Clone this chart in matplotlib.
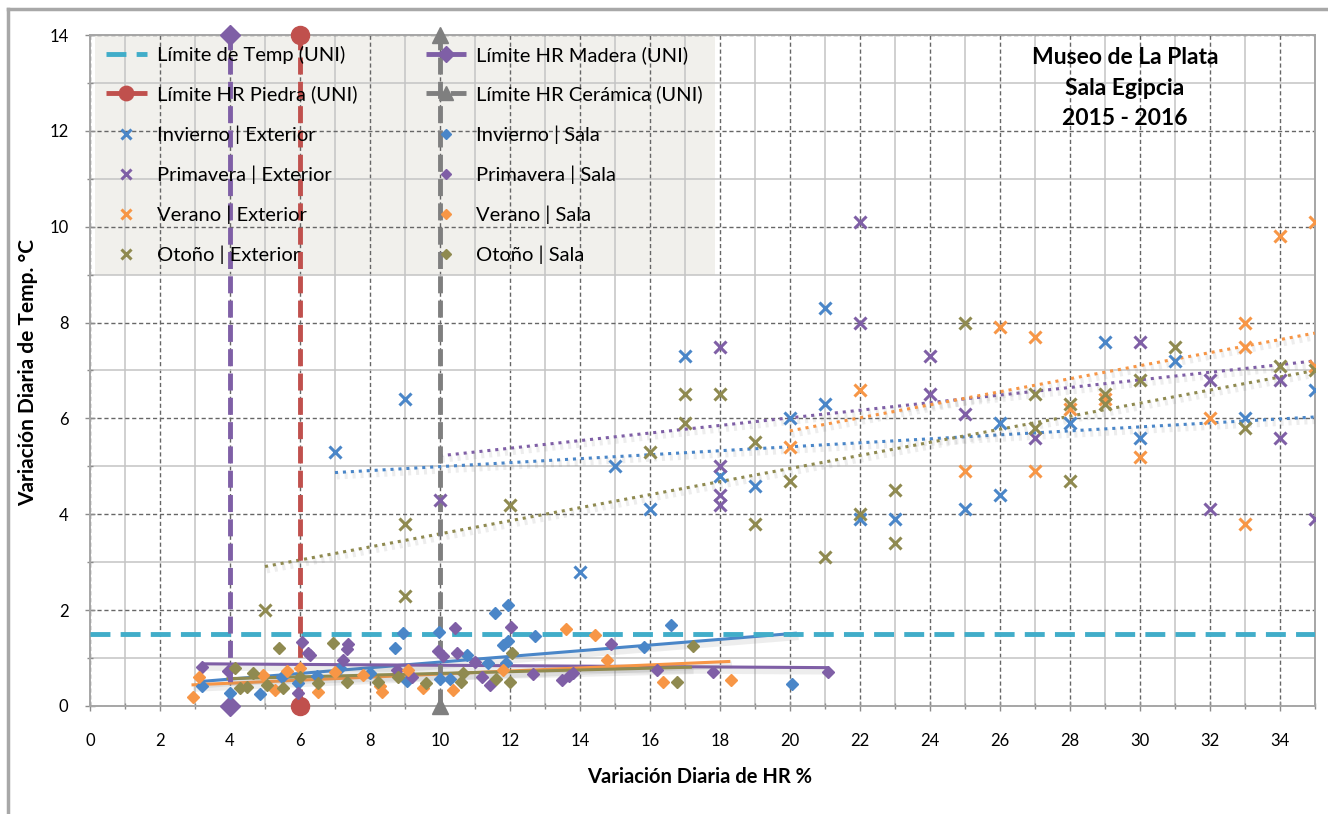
import matplotlib
matplotlib.use("Agg")
import matplotlib.pyplot as plt
import matplotlib.patheffects as pe
from matplotlib.patches import Rectangle
from matplotlib.lines import Line2D
from matplotlib.ticker import MultipleLocator

plt.rcParams['font.family'] = ['Lato', 'DejaVu Sans']

# ---------------- data ----------------
# Exterior daily variations (HR %, Temp °C)
inv_ext_x = [7, 9, 14, 15, 16, 17, 18, 19, 20, 21, 21, 22, 23, 25, 26, 26, 28, 29, 30, 31, 33, 35]
inv_ext_y = [5.3, 6.4, 2.8, 5.0, 4.1, 7.3, 4.8, 4.6, 6.0, 8.3, 6.3, 3.9, 3.9, 4.1, 5.9, 4.4, 5.9, 7.6, 5.6, 7.2, 6.0, 6.6]

prim_ext_x = [10, 18, 18, 18, 18, 22, 22, 24, 24, 25, 27, 30, 32, 32, 34, 34, 35]
prim_ext_y = [4.3, 7.5, 5.0, 4.4, 4.2, 10.1, 8.0, 7.3, 6.5, 6.1, 5.6, 7.6, 6.8, 4.1, 6.8, 5.6, 3.9]

ver_ext_x = [20, 22, 25, 26, 27, 27, 28, 29, 30, 32, 33, 33, 33, 34, 35, 35]
ver_ext_y = [5.4, 6.6, 4.9, 7.9, 7.7, 4.9, 6.2, 6.4, 5.2, 6.0, 8.0, 7.5, 3.8, 9.8, 10.1, 7.1]

oto_ext_x = [5, 9, 9, 12, 16, 17, 17, 18, 19, 19, 20, 21, 22, 23, 23, 25, 27, 27, 28, 28, 29, 29, 30, 31, 33, 34, 35]
oto_ext_y = [2.0, 3.8, 2.3, 4.2, 5.3, 6.5, 5.9, 6.5, 5.5, 3.8, 4.7, 3.1, 4.0, 4.5, 3.4, 8.0, 6.5, 5.8, 6.3, 4.7, 6.5, 6.3, 6.8, 7.5, 5.8, 7.1, 7.0]

# Sala (room) daily variations
inv_sala_x = [3.19, 4.0, 4.86, 5.5, 5.95, 6.5, 7.14, 8.0, 8.71, 8.95, 9.05, 9.96, 10.0, 10.3,
              10.76, 11.38, 11.57, 11.81, 11.89, 11.95, 11.95, 12.71, 15.83, 16.6, 20.05]
inv_sala_y = [0.42, 0.28, 0.26, 0.6, 0.47, 0.62, 0.79, 0.68, 1.2, 1.52, 0.53, 1.55, 0.56, 0.56,
              1.06, 0.89, 1.93, 1.27, 0.9, 1.36, 2.1, 1.45, 1.24, 1.69, 0.46]

prim_sala_x = [3.19, 3.95, 5.95, 6.05, 6.24, 6.3, 7.24, 7.33, 7.37, 8.76, 9.2, 9.95, 10.1, 10.43,
               10.48, 11.0, 11.2, 11.43, 12.02, 12.67, 13.5, 13.7, 13.8, 14.88, 16.19, 17.79, 21.1]
prim_sala_y = [0.81, 0.73, 0.27, 1.34, 1.1, 1.06, 0.96, 1.19, 1.29, 0.75, 0.6, 1.15, 1.05, 1.62,
               1.1, 0.92, 0.6, 0.44, 1.64, 0.66, 0.55, 0.62, 0.68, 1.29, 0.75, 0.7, 0.7]

ver_sala_x = [2.95, 3.1, 4.95, 5.29, 5.62, 6.0, 6.52, 7.0, 7.8, 8.29, 8.33, 9.1, 9.52, 10.36,
              11.8, 13.6, 14.43, 14.78, 16.38, 18.33]
ver_sala_y = [0.18, 0.61, 0.64, 0.33, 0.72, 0.8, 0.3, 0.7, 0.65, 0.42, 0.3, 0.75, 0.37, 0.33,
              0.75, 1.6, 1.48, 0.96, 0.51, 0.54]

oto_sala_x = [4.14, 4.29, 4.48, 4.65, 5.05, 5.41, 5.52, 6.0, 6.52, 6.95, 7.33, 8.24, 8.8, 9.6,
              10.6, 10.67, 11.6, 12.0, 12.05, 16.78, 17.22]
oto_sala_y = [0.79, 0.37, 0.4, 0.68, 0.44, 1.2, 0.37, 0.6, 0.47, 1.31, 0.51, 0.51, 0.6, 0.47,
              0.5, 0.68, 0.57, 0.51, 1.1, 0.51, 1.26]

# Linear trend lines (start / end)
inv_ext_trend_x, inv_ext_trend_y = [7, 35], [4.87, 6.03]
prim_ext_trend_x, prim_ext_trend_y = [10, 35], [5.22, 7.2]
ver_ext_trend_x, ver_ext_trend_y = [20, 35], [5.74, 7.78]
oto_ext_trend_x, oto_ext_trend_y = [5, 35], [2.91, 7.0]

inv_sala_trend_x, inv_sala_trend_y = [3.14, 20.2], [0.51, 1.52]
prim_sala_trend_x, prim_sala_trend_y = [3.19, 21.1], [0.88, 0.80]
ver_sala_trend_x, ver_sala_trend_y = [2.9, 18.3], [0.44, 0.93]
oto_sala_trend_x, oto_sala_trend_y = [3.9, 17.2], [0.57, 0.81]

# UNI limits
temp_limit = 1.5
hr_madera = 4
hr_piedra = 6
hr_ceramica = 10

x_ticks = list(range(0, 35, 2))
y_ticks = list(range(0, 15, 2))

# ---------------- colours ----------------
C_BLUE = '#4a86c8'
C_PURPLE = '#7f5fa6'
C_ORANGE = '#f79646'
C_OLIVE = '#8f8a50'
C_CYAN = '#41adc9'
C_RED = '#c0504d'
C_GRAY = '#7f7f7f'

fig = plt.figure(figsize=(13.28, 8.14), dpi=100)
ax = fig.add_axes([0.0678, 0.1327, 0.9222, 0.8243])

ax.set_xlim(0, 35)
ax.set_ylim(0, 14)
ax.set_axisbelow(True)

ax.xaxis.set_minor_locator(MultipleLocator(1))
ax.yaxis.set_minor_locator(MultipleLocator(1))
ax.set_xticks(x_ticks)
ax.set_yticks(y_ticks)

ax.grid(which='minor', color='#c4c4c4', linewidth=1.1, linestyle='-')
ax.grid(which='major', color='#666666', linewidth=1.0, linestyle=(0, (3, 2)))

for s in ax.spines.values():
    s.set_color('#a6a6a6')
    s.set_linewidth(1.4)

ax.tick_params(axis='both', which='both', color='#8c8c8c', direction='inout')
ax.tick_params(axis='both', which='major', length=7, width=1)
ax.tick_params(axis='both', which='minor', length=5, width=1)
ax.tick_params(axis='x', which='major', pad=16, labelsize=12)
ax.tick_params(axis='y', which='major', pad=12, labelsize=12)

# legend background panel
ax.add_patch(Rectangle((0.004, 0.642), 0.506, 0.358, transform=ax.transAxes,
                       facecolor='#f1f0ec', edgecolor='none', zorder=0.2))

shadow = [pe.SimpleLineShadow(offset=(1.2, -2.5), shadow_color='#707070', alpha=0.12, linewidth=5),
          pe.Normal()]

# trend lines, exterior (dotted)
for tx, ty, c in [(inv_ext_trend_x, inv_ext_trend_y, C_BLUE),
                  (prim_ext_trend_x, prim_ext_trend_y, C_PURPLE),
                  (ver_ext_trend_x, ver_ext_trend_y, C_ORANGE),
                  (oto_ext_trend_x, oto_ext_trend_y, C_OLIVE)]:
    ax.plot(tx, ty, color=c, linewidth=2.2, linestyle=(0, (1, 1.6)), zorder=3,
            path_effects=shadow)

# trend lines, sala (solid)
for tx, ty, c in [(inv_sala_trend_x, inv_sala_trend_y, C_BLUE),
                  (prim_sala_trend_x, prim_sala_trend_y, C_PURPLE),
                  (ver_sala_trend_x, ver_sala_trend_y, C_ORANGE),
                  (oto_sala_trend_x, oto_sala_trend_y, C_OLIVE)]:
    ax.plot(tx, ty, color=c, linewidth=2.2, solid_capstyle='butt', zorder=3,
            path_effects=shadow)

# UNI limits
h_temp, = ax.plot([0, 35], [temp_limit, temp_limit], color=C_CYAN, linewidth=3.5,
                  linestyle=(0, (4.1, 2.1)), zorder=4, label='Límite de Temp (UNI)')
h_mad, = ax.plot([hr_madera, hr_madera], [0, 14], color=C_PURPLE, linewidth=3.5,
                 linestyle=(0, (3.5, 1.5)), marker='D', markersize=10, zorder=4,
                 clip_on=False, label='Límite HR Madera (UNI)')
h_pie, = ax.plot([hr_piedra, hr_piedra], [0, 14], color=C_RED, linewidth=3.5,
                 linestyle=(0, (3.5, 1.5)), marker='o', markersize=13, zorder=4,
                 clip_on=False, label='Límite HR Piedra (UNI)')
h_cer, = ax.plot([hr_ceramica, hr_ceramica], [0, 14], color=C_GRAY, linewidth=3.5,
                 linestyle=(0, (3.5, 1.5)), marker='^', markersize=12, zorder=4,
                 clip_on=False, label='Límite HR Cerámica (UNI)')

# scatter series
def ext(xs, ys, c, lab):
    h, = ax.plot(xs, ys, linestyle='none', marker='x', markersize=8.5, markeredgewidth=2.2,
                 color=c, zorder=5, label=lab)
    return h

def sala(xs, ys, c, lab):
    h, = ax.plot(xs, ys, linestyle='none', marker='D', markersize=6.5,
                 color=c, markeredgecolor=c, zorder=5, label=lab)
    return h

h1 = ext(inv_ext_x, inv_ext_y, C_BLUE, 'Invierno | Exterior')
h2 = ext(prim_ext_x, prim_ext_y, C_PURPLE, 'Primavera | Exterior')
h3 = ext(ver_ext_x, ver_ext_y, C_ORANGE, 'Verano | Exterior')
h4 = ext(oto_ext_x, oto_ext_y, C_OLIVE, 'Otoño | Exterior')
h5 = sala(inv_sala_x, inv_sala_y, C_BLUE, 'Invierno | Sala')
h6 = sala(prim_sala_x, prim_sala_y, C_PURPLE, 'Primavera | Sala')
h7 = sala(ver_sala_x, ver_sala_y, C_ORANGE, 'Verano | Sala')
h8 = sala(oto_sala_x, oto_sala_y, C_OLIVE, 'Otoño | Sala')

handles = [h_temp, h_pie, h1, h2, h3, h4, h_mad, h_cer, h5, h6, h7, h8]
leg = ax.legend(handles=handles, labels=[h.get_label() for h in handles], ncol=2,
                loc='upper left', bbox_to_anchor=(-0.0015, 1.011), frameon=False,
                fontsize=14.5, numpoints=1, handlelength=2.0, handletextpad=0.5,
                labelspacing=1.08, columnspacing=3.4, markerscale=0.8)
leg.set_zorder(6)

ax.text(0.845, 0.982, 'Museo de La Plata\nSala Egipcia\n2015 - 2016', transform=ax.transAxes,
        ha='center', va='top', fontsize=16.5, fontweight='bold', linespacing=1.57, zorder=6)

fig.text(0.527, 1 - 777 / 814, 'Variación Diaria de HR %', ha='center', va='center',
         fontsize=14.5, fontweight='bold')
fig.text(28 / 1328, 1 - 372 / 814, 'Variación Diaria de Temp. °C', ha='center', va='center',
         rotation=90, fontsize=15, fontweight='bold')

# chart frame
fig.add_artist(Line2D([0.006, 1.0], [0.989, 0.989], transform=fig.transFigure,
                      color='#a8a8a8', linewidth=2.5))
fig.add_artist(Line2D([0.006, 0.006], [0.0, 0.989], transform=fig.transFigure,
                      color='#a8a8a8', linewidth=2.5))

fig.savefig('out.png', dpi=100)
